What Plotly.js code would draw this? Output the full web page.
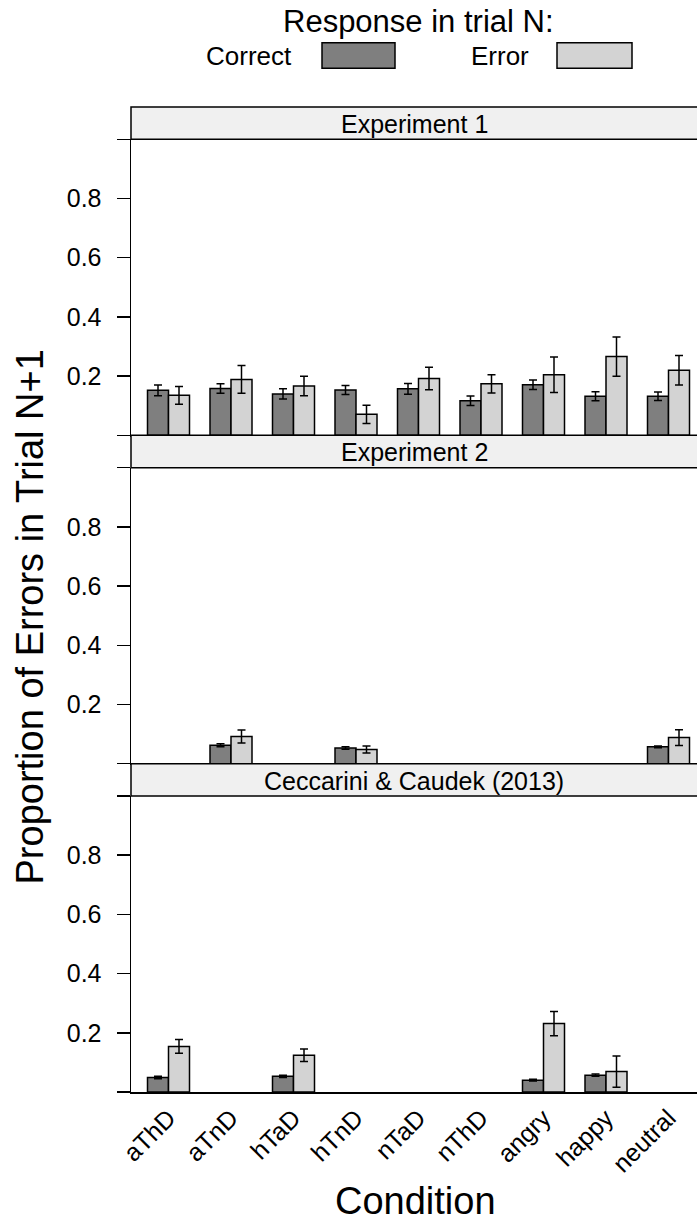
<!DOCTYPE html>
<html>
<head>
<meta charset="utf-8">
<script src="https://cdn.plot.ly/plotly-3.0.1.min.js"></script>
<style>html,body{margin:0;padding:0;background:#fff;}#chart{width:697px;height:1224px;}</style>
</head>
<body>
<div id="chart"></div>
<script>
// ---- data ----
var categories = ['aThD','aTnD','hTaD','hTnD','nTaD','nThD','angry','happy','neutral'];
var panelTitles = ['Experiment 1','Experiment 2','Ceccarini & Caudek (2013)'];
var seriesNames = ['Correct','Error'];
var legendTitle = 'Response in trial N:';
var yTickVals = [0, 0.2, 0.4, 0.6, 0.8, 1.0];
var yTickText = ['', '0.2', '0.4', '0.6', '0.8', ''];

var exp1Correct    = [0.152,0.158,0.140,0.153,0.157,0.117,0.171,0.132,0.132];
var exp1CorrectErr = [0.018,0.016,0.017,0.015,0.018,0.016,0.016,0.015,0.014];
var exp1Error      = [0.135,0.189,0.167,0.071,0.192,0.174,0.205,0.266,0.220];
var exp1ErrorErr   = [0.030,0.047,0.033,0.031,0.038,0.031,0.060,0.066,0.050];

var exp2Correct    = [null,0.062,null,0.053,null,null,null,null,0.057];
var exp2CorrectErr = [null,0.005,null,0.004,null,null,null,null,0.003];
var exp2Error      = [null,0.092,null,0.048,null,null,null,null,0.088];
var exp2ErrorErr   = [null,0.022,null,0.012,null,null,null,null,0.027];

var ccCorrect      = [0.049,null,0.053,null,null,null,0.040,0.057,null];
var ccCorrectErr   = [0.004,null,0.004,null,null,null,0.003,0.004,null];
var ccError        = [0.154,null,0.124,null,null,null,0.231,0.069,null];
var ccErrorErr     = [0.023,null,0.021,null,null,null,0.041,0.053,null];

// ---- styling / layout ----
var FONT = '"Liberation Sans", Arial, Helvetica, sans-serif';
var W = 697, H = 1224, L = 131, R = 0, T = 107, B = 132;
var PW = W - L - R, PH = H - T - B;
function px2x(px){ return (px - L) / PW; }
function px2y(py){ return (H - B - py) / PH; }
var colCorrect = '#7f7f7f', colError = '#d3d3d3', stripFill = '#f0f0f0';

var P = 296, S = (PH - 3*P) / 3;
// panel index 0 = top
var bottoms = [], tops = [], stripTops = [];
for (var i = 0; i < 3; i++) {
  var k = 2 - i; // from bottom
  var b = k * (P + S);
  bottoms.push(b / PH);
  tops.push((b + P) / PH);
  stripTops.push((b + P + S) / PH);
}

var panelData = [
  [exp1Correct, exp1CorrectErr, exp1Error, exp1ErrorErr],
  [exp2Correct, exp2CorrectErr, exp2Error, exp2ErrorErr],
  [ccCorrect, ccCorrectErr, ccError, ccErrorErr]
];

var traces = [];
panelData.forEach(function(d, i){
  var xa = i === 0 ? 'x' : 'x' + (i+1);
  var ya = i === 0 ? 'y' : 'y' + (i+1);
  [[d[0], d[1], colCorrect, seriesNames[0]], [d[2], d[3], colError, seriesNames[1]]].forEach(function(s){
    traces.push({
      type: 'bar', x: categories, y: s[0], name: s[3], xaxis: xa, yaxis: ya,
      marker: {color: s[2], line: {color: '#000', width: 1.5}},
      error_y: {type: 'data', array: s[1], visible: true, color: '#000', thickness: 1.5, width: 4},
      showlegend: false, hoverinfo: 'skip'
    });
  });
});

var layout = {
  width: W, height: H,
  margin: {l: L, r: R, t: T, b: B, pad: 0},
  paper_bgcolor: '#fff', plot_bgcolor: '#fff',
  font: {family: FONT, size: 25, color: '#000'},
  barmode: 'group', bargap: 0.328, bargroupgap: 0,
  showlegend: false,
  shapes: [], annotations: []
};

for (var i = 0; i < 3; i++) {
  var sfx = i === 0 ? '' : String(i+1);
  layout['xaxis' + sfx] = {
    type: 'category', categoryorder: 'array', categoryarray: categories,
    range: [-0.6, 8.456], domain: [0, 1], anchor: 'y' + sfx,
    showline: true, linecolor: '#000', linewidth: 1.5,
    ticks: '', showticklabels: i === 2, tickangle: -45,
    tickfont: {family: FONT, size: 25, color: '#000'},
    showgrid: false, zeroline: false, fixedrange: true
  };
  layout['yaxis' + sfx] = {
    range: [0, 1], domain: [bottoms[i], tops[i]], anchor: 'x' + sfx,
    tickmode: 'array', tickvals: yTickVals, ticktext: yTickText,
    ticks: 'outside', ticklen: 13, tickwidth: 1.5, tickcolor: '#000',
    ticklabelstandoff: 10,
    tickfont: {family: FONT, size: 25, color: '#000'},
    showline: true, linecolor: '#000', linewidth: 1.5,
    showgrid: false, zeroline: false, fixedrange: true
  };
  // strip
  layout.shapes.push({
    type: 'rect', xref: 'paper', yref: 'paper',
    x0: 0, x1: 1.05, y0: tops[i], y1: stripTops[i],
    fillcolor: stripFill, line: {color: '#000', width: 1.5}, layer: 'above'
  });
  layout.annotations.push({
    xref: 'paper', yref: 'paper', x: 0.5, y: (tops[i] + stripTops[i]) / 2 - 0.001,
    xanchor: 'center', yanchor: 'middle', showarrow: false,
    text: panelTitles[i], font: {family: FONT, size: 25, color: '#000'}
  });
}

// axis titles
layout.annotations.push({
  xref: 'paper', yref: 'paper', x: px2x(29.5), y: px2y(617),
  xanchor: 'center', yanchor: 'middle', showarrow: false, textangle: -90,
  text: 'Proportion of Errors in Trial N+1', font: {family: FONT, size: 38, color: '#000'}
});
layout.annotations.push({
  xref: 'paper', yref: 'paper', x: px2x(415), y: px2y(1223),
  xanchor: 'center', yanchor: 'bottom', showarrow: false, borderpad: 0,
  text: 'Condition', font: {family: FONT, size: 38, color: '#000'}
});

// key
layout.annotations.push({
  xref: 'paper', yref: 'paper', x: px2x(418), y: px2y(21),
  xanchor: 'center', yanchor: 'middle', showarrow: false,
  text: legendTitle, font: {family: FONT, size: 31, color: '#000'}
});
var keyItems = [
  {label: seriesNames[0], tx: 204, r0: 322, r1: 395, col: colCorrect},
  {label: seriesNames[1], tx: 469, r0: 557, r1: 632, col: colError}
];
keyItems.forEach(function(k){
  layout.annotations.push({
    xref: 'paper', yref: 'paper', x: px2x(k.tx), y: px2y(56),
    xanchor: 'left', yanchor: 'middle', showarrow: false,
    text: k.label, font: {family: FONT, size: 26, color: '#000'}
  });
  layout.shapes.push({
    type: 'rect', xref: 'paper', yref: 'paper',
    x0: px2x(k.r0), x1: px2x(k.r1), y0: px2y(68.3), y1: px2y(42.7),
    fillcolor: k.col, line: {color: '#000', width: 1.5}
  });
});

Plotly.newPlot('chart', traces, layout, {displayModeBar: false, staticPlot: true});
</script>
</body>
</html>
